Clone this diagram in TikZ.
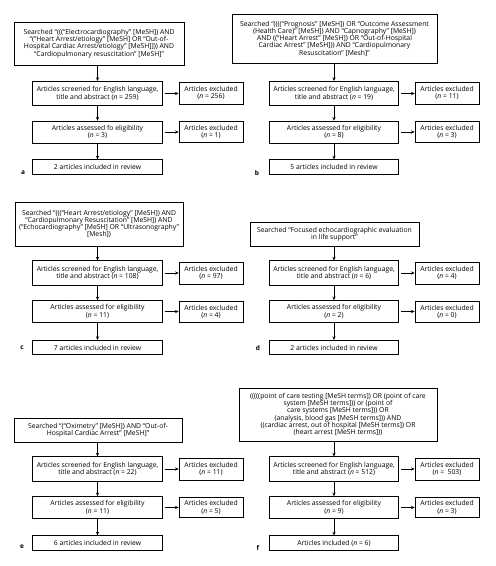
\documentclass[tikz,border=0pt]{standalone}
\usepackage{fontspec}
\setmainfont{Open Sans}
\usetikzlibrary{arrows.meta}
\newcommand\boxfont{\fontsize{6.8}{7.2}\selectfont}
\begin{document}
\begin{tikzpicture}[x=1pt,y=-1pt,
  box/.style={draw, line width=0.7pt, inner sep=0pt, align=center, font=\boxfont},
  srch/.style={box},
  scr/.style={box, minimum width=129.5pt, minimum height=24.5pt},
  exc/.style={box, minimum width=64pt, minimum height=22pt},
  ass/.style={box, minimum width=129.5pt, minimum height=22pt},
  excb/.style={box, minimum width=64pt, minimum height=20.5pt},
  inc/.style={box, minimum width=129.5pt, minimum height=14.5pt},
  arr/.style={-{Stealth[length=3.6pt,width=3.2pt]}, line width=0.7pt},
  harr/.style={arr, shorten <=2pt},
  lab/.style={font=\fontsize{6.5}{7}\selectfont\bfseries, inner sep=0pt}]
\useasboundingbox (0,0) rectangle (496,566);
\fill[white] (0,0) rectangle (496,566);

% ---------- panel a ----------
\node[srch, minimum width=170pt, minimum height=43pt] (aS) at (99,43.5)
 {Searched “(((“Electrocardiography” [MeSH]) AND\\“(“Heart Arrest/etiology” [MeSH] OR “Out-of-\\Hospital Cardiac Arrest/etiology” [MeSH]])) AND\\“Cardiopulmonary resuscitation” [MeSH]”};
\node[scr] (aA) at (97.5,93.5) {Articles screened for English language,\\title and abstract (\textit{n} = 259)};
\node[exc] (aE) at (211,93) {Articles excluded\\(\textit{n} = 256)};
\node[ass] (aB) at (97.5,132) {Articles assessed fo eligibility\\(\textit{n} = 3)};
\node[excb] (aF) at (211,132) {Articles excluded\\(\textit{n} = 1)};
\node[inc] (aC) at (97.5,167) {2 articles included in review};
\node[lab] (aL) at (23,173) {a};
\draw[arr] (aS.south -| aA.north) -- (aA.north);
\draw[arr] (aA.south) -- (aB.north);
\draw[arr] (aB.south) -- (aC.north);
\draw[harr] (aA.east) -- (aA.east -| aE.west);
\draw[harr] (aB.east) -- (aB.east -| aF.west);

% ---------- panel b ----------
\node[srch, minimum width=205pt, minimum height=49pt] (bS) at (334.5,38.7)
 {Searched “((((“Prognosis” [MeSH]) OR “Outcome Assessment\\(Health Care)” [MeSH]) AND “Capnography” [MeSH])\\AND ((“Heart Arrest” [MeSH]) OR “Out-of-Hospital\\Cardiac Arrest” [MeSH])) AND “Cardiopulmonary\\Resuscitation” [Mesh]”};
\node[scr] (bA) at (334,93.5) {Articles screened for English language,\\title and abstract (\textit{n} = 19)};
\node[exc] (bE) at (447,93) {Articles excluded\\(\textit{n} = 11)};
\node[ass] (bB) at (334,132) {Articles assessed for eligibility\\(\textit{n} = 8)};
\node[excb] (bF) at (447,132) {Articles excluded\\(\textit{n} = 3)};
\node[inc] (bC) at (334,167) {5 articles included in review};
\node[lab] (bL) at (257,173) {b};
\draw[arr] (bS.south -| bA.north) -- (bA.north);
\draw[arr] (bA.south) -- (bB.north);
\draw[arr] (bB.south) -- (bC.north);
\draw[harr] (bA.east) -- (bA.east -| bE.west);
\draw[harr] (bB.east) -- (bB.east -| bF.west);

% ---------- panel c ----------
\node[srch, minimum width=168pt, minimum height=44pt] (cS) at (99,224)
 {Searched “(((“Heart Arrest/etiology” [MeSH]) AND\\“Cardiopulmonary Resuscitation” [MeSH]) AND\\(“Echocardiography” [MeSH] OR “Ultrasonography”\\{}[Mesh])};
\node[scr] (cA) at (97.5,273) {Articles screened for English language,\\title and abstract (\textit{n} = 108)};
\node[exc] (cE) at (211,273) {Articles excluded\\(\textit{n} = 97)};
\node[ass] (cB) at (97.5,311.5) {Articles assessed for eligibility\\(\textit{n} = 11)};
\node[excb] (cF) at (211,312) {Articles excluded\\(\textit{n} = 4)};
\node[inc] (cC) at (97.5,347.5) {7 articles included in review};
\node[lab] (cL) at (22,348) {c};
\draw[arr] (cS.south -| cA.north) -- (cA.north);
\draw[arr] (cA.south) -- (cB.north);
\draw[arr] (cB.south) -- (cC.north);
\draw[harr] (cA.east) -- (cA.east -| cE.west);
\draw[harr] (cB.east) -- (cB.east -| cF.west);

% ---------- panel d ----------
\node[srch, minimum width=169pt, minimum height=24pt] (dS) at (334.5,234)
 {Searched “Focused echocardiographic evaluation\\in life support”};
\node[scr] (dA) at (334,273) {Articles screened for English language,\\title and abstract (\textit{n} = 6)};
\node[exc] (dE) at (447,273) {Articles excluded\\(\textit{n} = 4)};
\node[ass] (dB) at (334,311.5) {Articles assessed for eligibility\\(\textit{n} = 2)};
\node[excb] (dF) at (447,312) {Articles excluded\\(\textit{n} = 0)};
\node[inc] (dC) at (334,347.5) {2 articles included in review};
\node[lab] (dL) at (258,348) {d};
\draw[arr] (dS.south -| dA.north) -- (dA.north);
\draw[arr] (dA.south) -- (dB.north);
\draw[arr] (dB.south) -- (dC.north);
\draw[harr] (dA.east) -- (dA.east -| dE.west);
\draw[harr] (dB.east) -- (dB.east -| dF.west);

% ---------- panel e ----------
\node[srch, minimum width=168pt, minimum height=24pt] (eS) at (98,430)
 {Searched “(“Oximetry” [MeSH]) AND “Out-of-\\Hospital Cardiac Arrest” [MeSH]”};
\node[scr] (eA) at (97.5,469) {Articles screened for English language,\\title and abstract (\textit{n} = 22)};
\node[exc] (eE) at (211,469) {Articles excluded\\(\textit{n} = 11)};
\node[ass] (eB) at (97.5,507.5) {Articles assessed for eligibility\\(\textit{n} = 11)};
\node[excb] (eF) at (211,507.5) {Articles excluded\\(\textit{n} = 5)};
\node[inc] (eC) at (97.5,543) {6 articles included in review};
\node[lab] (eL) at (22,547) {e};
\draw[arr] (eS.south -| eA.north) -- (eA.north);
\draw[arr] (eA.south) -- (eB.north);
\draw[arr] (eB.south) -- (eC.north);
\draw[harr] (eA.east) -- (eA.east -| eE.west);
\draw[harr] (eB.east) -- (eB.east -| eF.west);

% ---------- panel f ----------
\node[srch, minimum width=198pt, minimum height=53pt] (fS) at (338,414.5)
 {(((((point of care testing [MeSH terms]) OR (point of care\\system [MeSH terms])) or (point of\\care systems [MeSH terms])) OR\\(analysis, blood gas [MeSH terms])) AND\\((cardiac arrest, out of hospital [MeSH terms]) OR\\(heart arrest [MeSH terms]))};
\node[scr] (fA) at (334,469) {Articles screened for English language,\\title and abstract (\textit{n} = 512)};
\node[exc] (fE) at (447,469) {Articles excluded\\(\textit{n} =\ \ 503)};
\node[ass] (fB) at (334,507.5) {Articles assessed for eligibility\\(\textit{n} = 9)};
\node[excb] (fF) at (447,507.5) {Articles excluded\\(\textit{n} = 3)};
\node[inc] (fC) at (334,543) {Articles included (\textit{n} = 6)};
\node[lab] (fL) at (258,548) {f};
\draw[arr] (fS.south -| fA.north) -- (fA.north);
\draw[arr] (fA.south) -- (fB.north);
\draw[arr] (fB.south) -- (fC.north);
\draw[harr] (fA.east) -- (fA.east -| fE.west);
\draw[harr] (fB.east) -- (fB.east -| fF.west);
\end{tikzpicture}
\end{document}
